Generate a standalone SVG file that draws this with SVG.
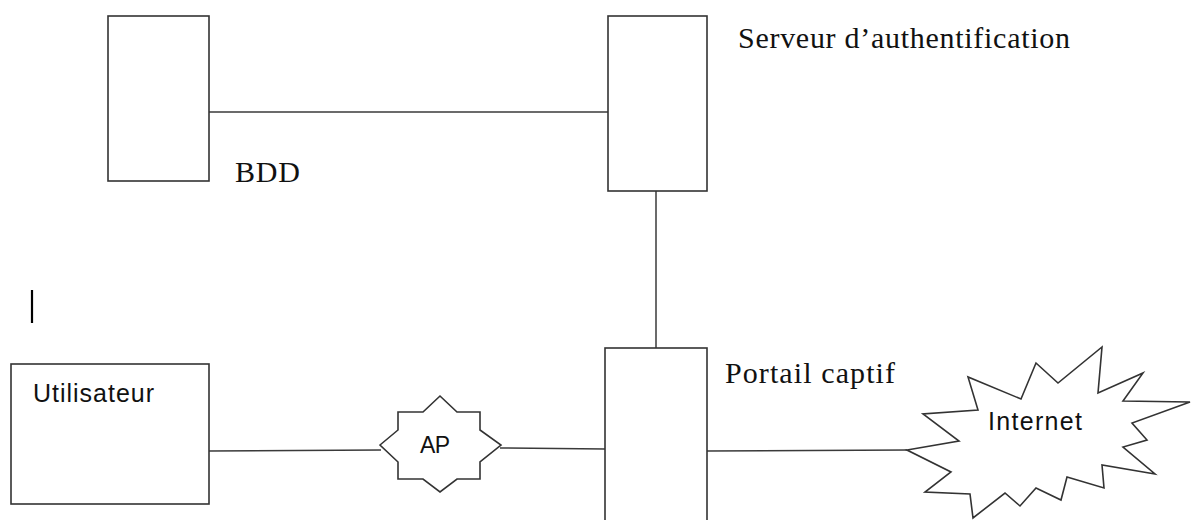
<svg xmlns="http://www.w3.org/2000/svg" width="1192" height="520" viewBox="0 0 1192 520">
<style>
.box{fill:#fff;stroke:#333;stroke-width:1.6}
.conn{stroke:#3a3a3a;stroke-width:1.5;fill:none}
.serif{font-family:"Liberation Serif","Times New Roman",serif;font-size:30px;fill:#111}
.sans{font-family:"Liberation Sans",Arial,sans-serif;font-size:25px;fill:#111}
</style>
<rect width="1192" height="520" fill="#fff"/>
<g id="connectors">
<line class="conn" x1="209" y1="451" x2="381" y2="450"/>
<line class="conn" x1="209" y1="112" x2="608" y2="112"/>
<line class="conn" x1="656" y1="191" x2="656" y2="348"/>
<line class="conn" x1="500" y1="448" x2="605" y2="449"/>
<line class="conn" x1="707" y1="451" x2="907" y2="450"/>
</g>
<g id="bdd">
<rect class="box" x="108" y="16" width="101" height="165"/>
<text class="serif" x="235" y="182" textLength="65">BDD</text>
</g>
<g id="serveur">
<rect class="box" x="608" y="16" width="99" height="175"/>
<text class="serif" x="738" y="48" textLength="332">Serveur d’authentification</text>
</g>
<g id="portail">
<rect class="box" x="605" y="348" width="102" height="190"/>
<text class="serif" x="725" y="383" textLength="170">Portail captif</text>
</g>
<g id="utilisateur">
<rect class="box" x="11" y="364" width="198" height="140"/>
<text class="sans" x="33" y="402" textLength="121">Utilisateur</text>
</g>
<g id="ap">
<polygon class="box" points="380,445 398,430 398,412 423,412 440,396 457,412 480,412 480,430 501,445 480,462 480,479 457,479 440,492 423,479 398,479 398,462"/>
<text class="sans" x="435" y="453" text-anchor="middle" textLength="30" style="font-size:23px">AP</text>
</g>
<g id="internet">
<polygon class="box" points="907,450 959,441 923,414 978,410 968,377 1021,399 1036,363 1058,383 1102,347 1098,393 1143,373 1123,401 1190,402 1132,423 1147,440 1123,447 1155,474 1102,465 1104,488 1067,477 1061,500 1036,488 1020,506 1005,493 973,518 970,494 925,492 951,472"/>
<text class="sans" x="988" y="430" textLength="94">Internet</text>
</g>
<line x1="32" y1="290" x2="32" y2="323" stroke="#000" stroke-width="2.2"/>
</svg>
